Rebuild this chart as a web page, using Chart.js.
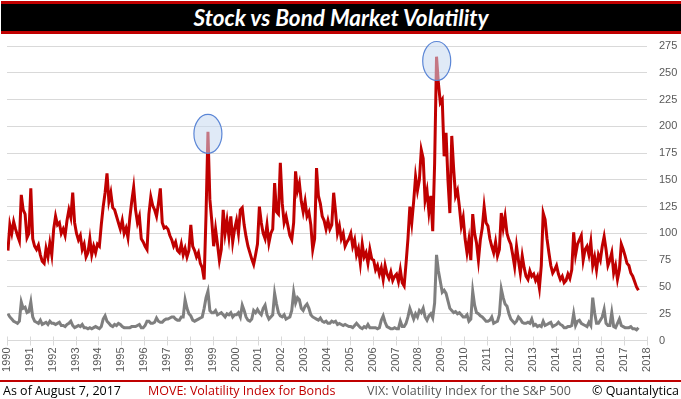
<!DOCTYPE html>
<html>
<head>
<meta charset="utf-8">
<script src="https://cdn.jsdelivr.net/npm/chart.js@4.4.0/dist/chart.umd.min.js"></script>
<style>
  body { margin: 0; width: 681px; height: 399px; background: #fff; position: relative; overflow: hidden; }
  #title {
    position: absolute; left: 1px; top: 1px; width: 680px; height: 27px;
    background: #000; border-top: 3px solid #c00000; border-bottom: 3px solid #c00000;
    color: #fff; font: italic bold 22.5px Lato, sans-serif; text-align: center; line-height: 28px;
  }
  #chart { position: absolute; left: 0; top: 0; }
  #rule { position: absolute; left: 0; top: 380px; width: 681px; height: 2px; background: #c00000; }
  .foot { position: absolute; top: 382px; font: 12.5px "Open Sans", sans-serif; white-space: nowrap; }
</style>
</head>
<body>
<canvas id="chart" width="681" height="399"></canvas>
<div id="title">Stock vs Bond Market Volatility</div>
<div id="rule"></div>
<div class="foot" style="left:3px;color:#000">As of August 7, 2017</div>
<div class="foot" style="left:148px;color:#c00000">MOVE: Volatility Index for Bonds</div>
<div class="foot" style="left:367px;color:#595959">VIX: Volatility Index for the S&amp;P 500</div>
<div class="foot" style="left:592px;color:#000">© Quantalytica</div>
<script>
// monthly readings, Jan 1990 - Aug 2017
const startYear = 1990;

const moveValues = [
  84,108,100,111,104,98,93,136,122,118,96,100,     // 1990
  142,95,88,85,89,80,74,72,86,78,91,80,            // 1991
  104,116,108,110,100,104,98,112,122,115,138,110,  // 1992
  100,94,98,85,90,78,82,95,80,88,82,90,            // 1993
  88,108,125,138,156,130,138,124,122,116,110,104,  // 1994
  112,100,105,96,115,130,143,122,110,116,95,92,    // 1995
  88,85,118,134,126,122,116,128,142,110,105,106,   // 1996
  104,98,94,88,92,84,82,90,80,86,78,84,            // 1997
  108,88,84,78,82,72,68,57,118,195,132,112,        // 1998
  88,104,90,75,85,122,100,112,97,116,92,104,       // 1999
  112,100,122,124,108,97,88,82,76,71,80,90,        // 2000
  125,110,100,95,108,91,100,104,147,120,118,166,   // 2001
  128,110,116,107,98,94,110,158,140,147,130,120,   // 2002
  130,116,120,108,85,95,161,135,128,116,112,104,   // 2003
  112,104,108,138,120,100,107,95,100,88,92,95,     // 2004
  100,88,94,80,86,72,90,78,82,72,85,76,            // 2005
  75,66,70,62,68,57,70,62,58,64,56,60,             // 2006
  62,55,66,54,51,72,95,125,110,130,153,140,        // 2007
  150,178,170,131,140,120,135,102,165,265,240,222, // 2008
  225,172,194,150,119,191,160,135,140,125,107,115, // 2009
  95,82,94,75,118,100,91,75,94,105,125,110,        // 2010
  107,95,88,82,92,79,85,119,105,116,100,94,        // 2011
  90,80,69,88,75,63,79,68,60,57,65,60,             // 2012
  62,56,60,49,70,119,113,95,82,70,63,66,           // 2013
  70,62,57,60,54,56,62,58,66,101,80,90,            // 2014
  94,98,75,85,88,80,92,70,78,66,80,75,             // 2015
  88,97,85,70,75,82,63,70,57,66,90,85,             // 2016
  79,72,70,63,60,55,50,47                          // 2017
];

const vixValues = [
  25,22,20,18,17,16,18,36,30,31,26,27,  // 1990
  36,22,18,17,16,19,15,16,17,15,18,16,  // 1991
  16,15,16,17,14,14,13,15,16,18,14,12,  // 1992
  13,14,13,15,12,12,11,12,11,12,13,12,  // 1993
  11,13,20,23,18,16,14,13,15,14,16,15,  // 1994
  13,12,12,12,12,13,13,13,14,15,12,12,  // 1995
  14,18,18,16,16,17,21,18,17,17,19,20,  // 1996
  20,21,22,22,20,19,19,22,22,38,30,25,  // 1997
  23,19,18,19,20,21,22,30,40,46,28,26,  // 1998
  26,28,24,25,26,24,22,25,24,26,22,24,  // 1999
  24,26,22,33,28,22,19,18,20,28,26,29,  // 2000
  26,24,30,33,24,20,22,24,44,34,26,23,  // 2001
  22,24,20,21,22,28,45,35,40,38,30,28,  // 2002
  32,34,30,24,22,21,20,19,21,18,17,18,  // 2003
  16,16,18,17,18,15,16,15,14,15,14,13,  // 2004
  13,12,14,16,14,12,11,13,12,15,12,12,  // 2005
  12,12,11,12,19,23,17,13,12,11,11,12,  // 2006
  11,11,18,13,13,16,22,30,25,20,25,22,  // 2007
  28,26,30,22,19,23,25,21,35,80,65,55,  // 2008
  45,47,44,37,30,28,26,27,25,26,24,22,  // 2009
  22,24,18,20,46,33,26,25,23,22,20,18,  // 2010
  18,19,22,16,17,18,24,48,40,34,32,25,  // 2011
  20,18,16,18,22,20,17,16,16,17,16,20,  // 2012
  14,15,13,14,13,18,14,15,16,17,13,14,  // 2013
  15,17,15,14,12,12,13,13,14,25,14,18,  // 2014
  19,16,15,14,13,17,14,40,26,16,16,19,  // 2015
  22,29,16,14,14,26,13,12,16,20,14,13,  // 2016
  12,12,12,13,11,11,10,12               // 2017
];

// circled spikes (year, index level)
const highlightYears = [1998.79, 2008.8];
const highlightValues = [193, 261];

const toPoints = (vals) => vals.map((v, i) => ({ x: startYear + (i + 0.5) / 12, y: v }));

const axisGray = "#d9d9d9";
const labelGray = "#595959";

const highlightPlugin = {
  id: "highlights",
  afterDatasetsDraw(chart) {
    const { ctx, scales } = chart;
    ctx.save();
    highlightYears.forEach((yr, i) => {
      const cx = scales.x.getPixelForValue(yr);
      const cy = scales.y.getPixelForValue(highlightValues[i]);
      ctx.beginPath();
      ctx.ellipse(cx, cy, 14, 19.5, 0, 0, Math.PI * 2);
      ctx.fillStyle = "rgba(198,217,241,0.55)";
      ctx.fill();
      ctx.lineWidth = 1.2;
      ctx.strokeStyle = "#5b86d6";
      ctx.stroke();
    });
    ctx.restore();
  }
};

// small tick marks crossing the x axis
const xTickPlugin = {
  id: "xticks",
  afterDraw(chart) {
    const { ctx, scales } = chart;
    const y0 = scales.y.getPixelForValue(0);
    ctx.save();
    ctx.strokeStyle = axisGray;
    ctx.lineWidth = 1;
    scales.x.ticks.forEach((t) => {
      const x = Math.round(scales.x.getPixelForValue(t.value)) + 0.5;
      ctx.beginPath();
      ctx.moveTo(x, y0 - 4);
      ctx.lineTo(x, y0 + 5);
      ctx.stroke();
    });
    ctx.restore();
  }
};

new Chart(document.getElementById("chart"), {
  type: "line",
  data: {
    datasets: [
      {
        label: "MOVE",
        data: toPoints(moveValues),
        borderColor: "#c00000",
        borderWidth: 3,
        pointRadius: 0,
        tension: 0
      },
      {
        label: "VIX",
        data: toPoints(vixValues),
        borderColor: "#7f7f7f",
        borderWidth: 3,
        pointRadius: 0,
        tension: 0
      }
    ]
  },
  options: {
    responsive: false,
    animation: false,
    layout: { padding: { left: 7, top: 46, right: 0, bottom: 20 } },
    plugins: {
      legend: { display: false },
      tooltip: { enabled: false }
    },
    scales: {
      x: {
        type: "linear",
        min: 1990,
        max: 2018,
        afterFit: (scale) => { scale.height = 38.5; },
        grid: { display: false, drawTicks: false },
        border: { display: true, color: axisGray },
        ticks: {
          stepSize: 1,
          autoSkip: false,
          minRotation: 90,
          maxRotation: 90,
          padding: 7,
          color: labelGray,
          font: { family: "Liberation Sans", size: 11 },
          callback: (v) => String(v)
        }
      },
      y: {
        position: "right",
        min: 0,
        max: 275,
        afterFit: (scale) => { scale.width = 34; },
        grid: { color: axisGray, drawTicks: false },
        border: { display: false },
        ticks: {
          stepSize: 25,
          padding: 12,
          color: labelGray,
          font: { family: "Liberation Sans", size: 11 }
        }
      }
    }
  },
  plugins: [highlightPlugin, xTickPlugin]
});
</script>
</body>
</html>
